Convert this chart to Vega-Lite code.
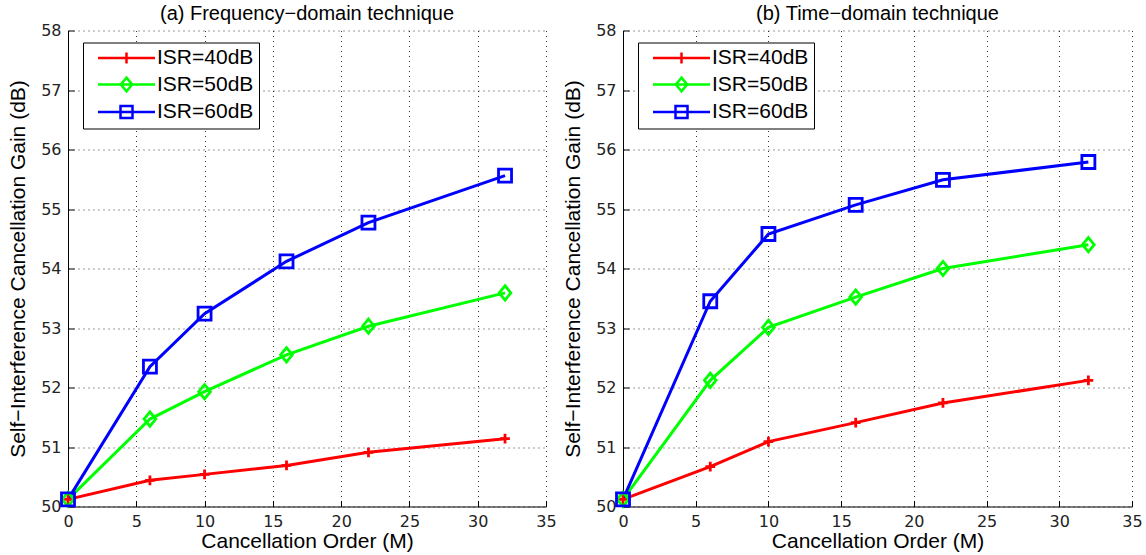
{
  "$schema": "https://vega.github.io/schema/vega-lite/v6.json",
  "datasets": {
    "freq": [
      {"order": 0, "gain": 50.12, "series": "ISR=40dB"},
      {"order": 6, "gain": 50.44, "series": "ISR=40dB"},
      {"order": 10, "gain": 50.54, "series": "ISR=40dB"},
      {"order": 16, "gain": 50.69, "series": "ISR=40dB"},
      {"order": 22, "gain": 50.91, "series": "ISR=40dB"},
      {"order": 32, "gain": 51.14, "series": "ISR=40dB"},
      {"order": 0, "gain": 50.12, "series": "ISR=50dB"},
      {"order": 6, "gain": 51.47, "series": "ISR=50dB"},
      {"order": 10, "gain": 51.93, "series": "ISR=50dB"},
      {"order": 16, "gain": 52.55, "series": "ISR=50dB"},
      {"order": 22, "gain": 53.03, "series": "ISR=50dB"},
      {"order": 32, "gain": 53.59, "series": "ISR=50dB"},
      {"order": 0, "gain": 50.12, "series": "ISR=60dB"},
      {"order": 6, "gain": 52.35, "series": "ISR=60dB"},
      {"order": 10, "gain": 53.24, "series": "ISR=60dB"},
      {"order": 16, "gain": 54.12, "series": "ISR=60dB"},
      {"order": 22, "gain": 54.77, "series": "ISR=60dB"},
      {"order": 32, "gain": 55.56, "series": "ISR=60dB"}
    ],
    "time": [
      {"order": 0, "gain": 50.12, "series": "ISR=40dB"},
      {"order": 6, "gain": 50.67, "series": "ISR=40dB"},
      {"order": 10, "gain": 51.09, "series": "ISR=40dB"},
      {"order": 16, "gain": 51.41, "series": "ISR=40dB"},
      {"order": 22, "gain": 51.74, "series": "ISR=40dB"},
      {"order": 32, "gain": 52.12, "series": "ISR=40dB"},
      {"order": 0, "gain": 50.12, "series": "ISR=50dB"},
      {"order": 6, "gain": 52.12, "series": "ISR=50dB"},
      {"order": 10, "gain": 53.01, "series": "ISR=50dB"},
      {"order": 16, "gain": 53.52, "series": "ISR=50dB"},
      {"order": 22, "gain": 54.0, "series": "ISR=50dB"},
      {"order": 32, "gain": 54.4, "series": "ISR=50dB"},
      {"order": 0, "gain": 50.12, "series": "ISR=60dB"},
      {"order": 6, "gain": 53.45, "series": "ISR=60dB"},
      {"order": 10, "gain": 54.58, "series": "ISR=60dB"},
      {"order": 16, "gain": 55.07, "series": "ISR=60dB"},
      {"order": 22, "gain": 55.49, "series": "ISR=60dB"},
      {"order": 32, "gain": 55.79, "series": "ISR=60dB"}
    ]
  },
  "padding": {"left": 7, "top": 3.5, "right": 4, "bottom": 0},
  "spacing": 77,
  "bounds": "flush",
  "config": {
    "background": "white",
    "view": {"stroke": null},
    "font": "Liberation Sans",
    "title": {"font": "Liberation Sans", "fontSize": 20, "fontWeight": "normal", "color": "black", "offset": -1},
    "axis": {
      "domainColor": "black",
      "domainWidth": 1,
      "tickColor": "black",
      "tickSize": -6,
      "labelPadding": 13,
      "labelFont": "DejaVu Sans",
      "labelFontSize": 16,
      "labelColor": "#222",
      "labelFlush": false,
      "titleFont": "Liberation Sans",
      "titleFontSize": 21,
      "titleFontWeight": "normal",
      "titleColor": "black",
      "grid": true,
      "gridColor": "black",
      "gridDash": [1, 4],
      "gridOpacity": 0.8
    },
    "axisX": {"titlePadding": 1},
    "axisY": {"titlePadding": 12},
    "legend": {
      "orient": "none",
      "legendX": 15,
      "legendY": 12,
      "strokeColor": "black",
      "fillColor": "white",
      "padding": 5,
      "cornerRadius": 0,
      "labelFont": "Liberation Sans",
      "labelFontSize": 21,
      "labelColor": "black",
      "symbolOffset": 28,
      "labelOffset": 20,
      "rowPadding": 3.5,
      "symbolStrokeWidth": 2.5,
      "symbolSize": 144,
      "title": null
    }
  },
  "hconcat": [
    {
      "width": 478,
      "height": 476,
      "title": "(a) Frequency−domain technique",
      "data": {"name": "freq"},
      "encoding": {
        "x": {"field": "order", "type": "quantitative", "scale": {"domain": [0, 35], "nice": false}, "axis": {"title": "Cancellation Order (M)", "values": [0, 5, 10, 15, 20, 25, 30, 35]}},
        "y": {"field": "gain", "type": "quantitative", "scale": {"domain": [50, 58], "nice": false, "zero": false}, "axis": {"title": "Self−Interference Cancellation Gain (dB)", "values": [50, 51, 52, 53, 54, 55, 56, 57, 58]}}
      },
      "layer": [
        {
          "mark": {"type": "line", "strokeWidth": 3},
          "encoding": {"color": {"field": "series", "type": "nominal", "scale": {"domain": ["ISR=40dB", "ISR=50dB", "ISR=60dB"], "range": ["#ff0000", "#00ff00", "#0000ff"]}, "legend": null}}
        },
        {
          "mark": {"type": "point", "filled": false, "strokeWidth": 2.8, "size": 169, "opacity": 1},
          "encoding": {
            "color": {"field": "series", "type": "nominal", "scale": {"domain": ["ISR=40dB", "ISR=50dB", "ISR=60dB"], "range": ["#ff0000", "#00ff00", "#0000ff"]}, "legend": null},
            "shape": {"field": "series", "type": "nominal", "scale": {"domain": ["ISR=40dB", "ISR=50dB", "ISR=60dB"], "range": ["M-0.75,0H0.75M0,-0.75V0.75", "M0,-1.1L0.9,0L0,1.1L-0.9,0Z", "M-1,-1H1V1H-1Z"]}, "legend": null}
          }
        },
        {
          "transform": [{"filter": "datum.order < 0"}],
          "mark": {"type": "point", "filled": false, "strokeWidth": 2.5, "size": 144, "opacity": 1},
          "encoding": {
            "color": {"field": "series", "type": "nominal", "scale": {"domain": ["ISR=40dB", "ISR=50dB", "ISR=60dB"], "range": ["#ff0000", "#00ff00", "#0000ff"]}},
            "shape": {"field": "series", "type": "nominal", "scale": {"domain": ["ISR=40dB", "ISR=50dB", "ISR=60dB"], "range": ["M-4.75,0H4.75M0,-0.9V0.9", "M-4.75,0H4.75M0,-1.15L0.95,0L0,1.15L-0.95,0Z", "M-4.75,0H4.75M-1,-1H1V1H-1Z"]}}
          }
        }
      ],
      "resolve": {"scale": {"color": "independent", "shape": "independent"}}
    },
    {
      "width": 509,
      "height": 476,
      "title": "(b) Time−domain technique",
      "data": {"name": "time"},
      "encoding": {
        "x": {"field": "order", "type": "quantitative", "scale": {"domain": [0, 35], "nice": false}, "axis": {"title": "Cancellation Order (M)", "values": [0, 5, 10, 15, 20, 25, 30, 35]}},
        "y": {"field": "gain", "type": "quantitative", "scale": {"domain": [50, 58], "nice": false, "zero": false}, "axis": {"title": "Self−Interference Cancellation Gain (dB)", "values": [50, 51, 52, 53, 54, 55, 56, 57, 58]}}
      },
      "layer": [
        {
          "mark": {"type": "line", "strokeWidth": 3},
          "encoding": {"color": {"field": "series", "type": "nominal", "scale": {"domain": ["ISR=40dB", "ISR=50dB", "ISR=60dB"], "range": ["#ff0000", "#00ff00", "#0000ff"]}, "legend": null}}
        },
        {
          "mark": {"type": "point", "filled": false, "strokeWidth": 2.8, "size": 169, "opacity": 1},
          "encoding": {
            "color": {"field": "series", "type": "nominal", "scale": {"domain": ["ISR=40dB", "ISR=50dB", "ISR=60dB"], "range": ["#ff0000", "#00ff00", "#0000ff"]}, "legend": null},
            "shape": {"field": "series", "type": "nominal", "scale": {"domain": ["ISR=40dB", "ISR=50dB", "ISR=60dB"], "range": ["M-0.75,0H0.75M0,-0.75V0.75", "M0,-1.1L0.9,0L0,1.1L-0.9,0Z", "M-1,-1H1V1H-1Z"]}, "legend": null}
          }
        },
        {
          "transform": [{"filter": "datum.order < 0"}],
          "mark": {"type": "point", "filled": false, "strokeWidth": 2.5, "size": 144, "opacity": 1},
          "encoding": {
            "color": {"field": "series", "type": "nominal", "scale": {"domain": ["ISR=40dB", "ISR=50dB", "ISR=60dB"], "range": ["#ff0000", "#00ff00", "#0000ff"]}},
            "shape": {"field": "series", "type": "nominal", "scale": {"domain": ["ISR=40dB", "ISR=50dB", "ISR=60dB"], "range": ["M-4.75,0H4.75M0,-0.9V0.9", "M-4.75,0H4.75M0,-1.15L0.95,0L0,1.15L-0.95,0Z", "M-4.75,0H4.75M-1,-1H1V1H-1Z"]}}
          }
        }
      ],
      "resolve": {"scale": {"color": "independent", "shape": "independent"}}
    }
  ]
}
